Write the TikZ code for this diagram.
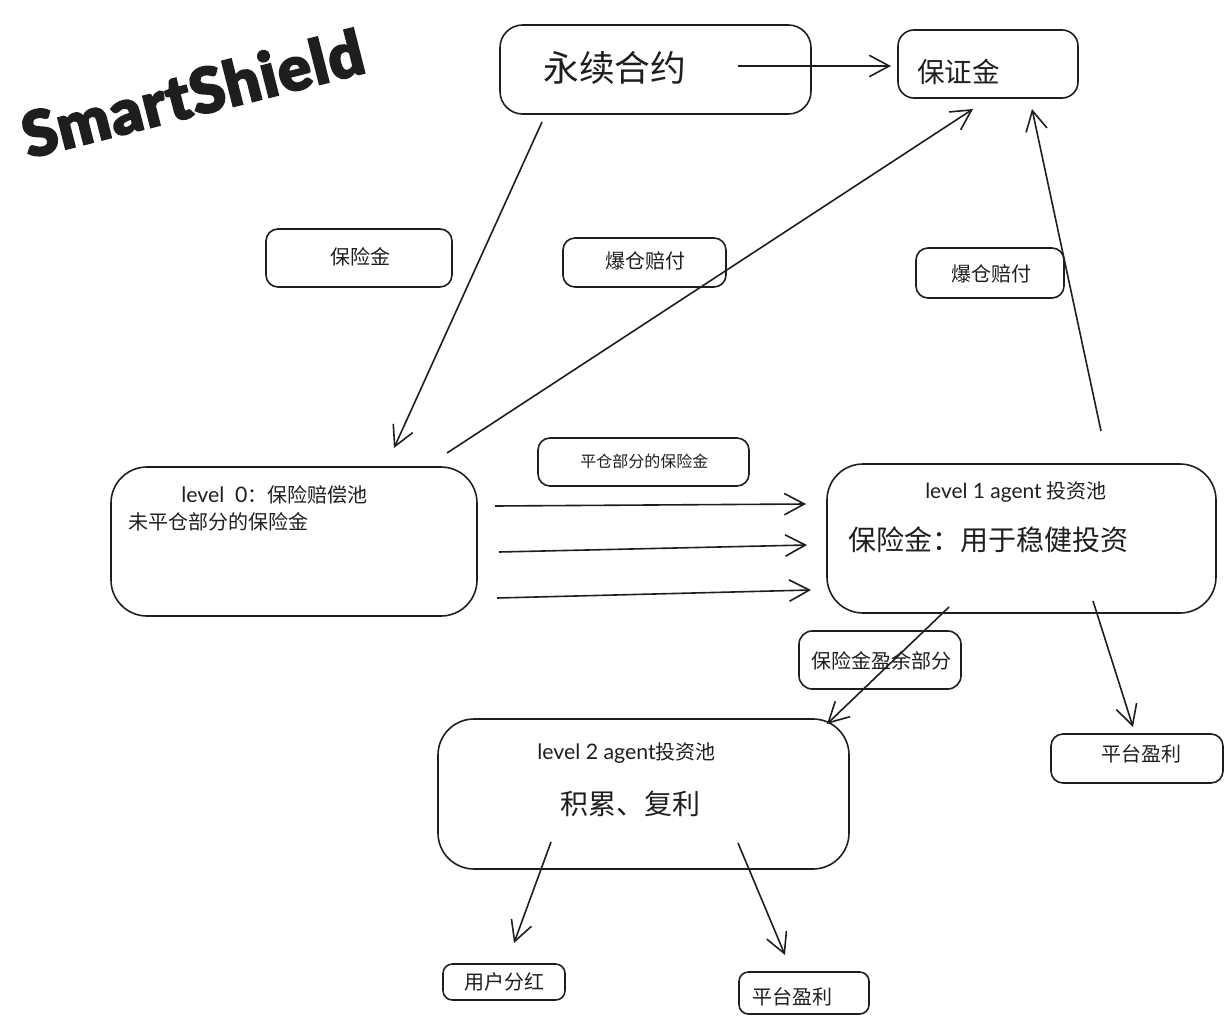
\documentclass[tikz,border=0pt]{standalone}
\usepackage{fontspec}
\setmainfont{Lato}
\newfontfamily\cjk{Noto Sans CJK SC}
\newfontfamily\latn{Lato}
\newfontfamily\titlefont{Lato}[UprightFont=* Black, FakeBold=2.2, LetterSpace=1.5]
\usepackage{tikz}
\usetikzlibrary{arrows.meta}
\definecolor{inkcol}{HTML}{1E1E1E}
\tikzset{
    flowbox/.style 2 args={draw=inkcol, line width=1.2pt, minimum width=#1*0.75pt, minimum height=#2*0.75pt, inner sep=0pt},
    flowarrow/.style={draw=inkcol, line width=1.2pt, -{Straight Barb[length=15pt, width=16pt, line width=1.2pt]}},
    lbl/.style={text=inkcol, inner sep=0pt, anchor=west},
    lblsmall/.style={lbl, font=\cjk\fontsize{12}{14}\selectfont},
    lblmid/.style={lbl, font=\cjk\fontsize{15}{18}\selectfont},
    lblbig/.style={lbl, font=\cjk\fontsize{21}{25}\selectfont},
}

\begin{document}
\begin{tikzpicture}[x=0.75pt, y=-0.75pt]
    \useasboundingbox (0, 0) rectangle (1232, 1024);
    % title
    \node[text=inkcol, inner sep=0pt, rotate=14.3, font=\titlefont\fontsize{47}{54}\selectfont] (title) at (192.5, 93) {SmartShield};
    % boxes
    \node[flowbox={311}{89}, rounded corners=17pt] (contract) at (655.5, 69.5) {};
    \node[flowbox={180}{68}, rounded corners=12pt] (margin) at (988, 64) {};
    \node[flowbox={186}{58}, rounded corners=9pt] (premium) at (359, 258) {};
    \node[flowbox={163}{49}, rounded corners=9pt] (payA) at (644.5, 262.5) {};
    \node[flowbox={148}{50}, rounded corners=9pt] (payB) at (990, 273) {};
    \node[flowbox={211}{48}, rounded corners=9pt] (closed) at (643.5, 462) {};
    \node[flowbox={366}{149}, rounded corners=27pt] (levelzero) at (294, 541.5) {};
    \node[flowbox={389}{149}, rounded corners=27pt] (levelone) at (1021.5, 538.5) {};
    \node[flowbox={162}{58}, rounded corners=10pt] (surplus) at (880, 660) {};
    \node[flowbox={411}{150}, rounded corners=27pt] (leveltwo) at (643.5, 794) {};
    \node[flowbox={172}{49}, rounded corners=9pt] (profitA) at (1137, 758.5) {};
    \node[flowbox={122}{36}, rounded corners=7pt] (dividend) at (504, 982) {};
    \node[flowbox={130}{42}, rounded corners=7pt] (profitB) at (804, 993) {};
    % labels
    \node[lblbig, font=\cjk\fontsize{26.8}{30}\selectfont] (contracttxt) at (543, 68) {永续合约};
    \node[lblbig, font=\cjk\fontsize{20.7}{24}\selectfont] (margintxt) at (917, 72) {保证金};
    \node[lblmid] (premiumtxt) at (330, 257) {保险金};
    \node[lblmid] (payAtxt) at (605, 261) {爆仓赔付};
    \node[lblmid] (payBtxt) at (951, 274) {爆仓赔付};
    \node[lblsmall] (closedtxt) at (580, 461) {平仓部分的保险金};
    \node[lblmid] (zerotxt) at (181, 495) {{\latn\fontsize{16}{18}\selectfont level\hspace{0.5em}0}：保险赔偿池};
    \node[lblmid] (zeronote) at (128, 522) {未平仓部分的保险金};
    \node[lblmid] (onetxt) at (925, 492) {{\latn\fontsize{15.7}{18}\selectfont level 1 agent }投资池};
    \node[lblbig] (onenote) at (848, 540) {保险金：用于稳健投资};
    \node[lblmid] (surplustxt) at (811, 661) {保险金盈余部分};
    \node[lblmid] (twotxt) at (537, 753) {{\latn\fontsize{16}{18}\selectfont level 2 agent}投资池};
    \node[lblbig] (twonote) at (560, 804) {积累、复利};
    \node[lblmid] (profitAtxt) at (1101, 754) {平台盈利};
    \node[lblmid] (dividendtxt) at (464, 982) {用户分红};
    \node[lblmid] (profitBtxt) at (752, 997) {平台盈利};
    % arrow ends
    \coordinate (a1) at (738, 66);   \coordinate (b1) at (891, 66);
    \coordinate (a2) at (542, 122);  \coordinate (b2) at (394, 448);
    \coordinate (a3) at (447, 453);  \coordinate (b3) at (973, 109);
    \coordinate (a4) at (1101, 431); \coordinate (b4) at (1032, 109);
    \coordinate (a5) at (495, 506);  \coordinate (b5) at (806, 504);
    \coordinate (a6) at (499, 552);  \coordinate (b6) at (807, 545);
    \coordinate (a7) at (497, 598);  \coordinate (b7) at (811, 590);
    \coordinate (a8) at (949, 607);  \coordinate (b8) at (827, 724);
    \coordinate (a9) at (1093, 601); \coordinate (b9) at (1133, 727);
    \coordinate (a10) at (551, 842); \coordinate (b10) at (514, 943);
    \coordinate (a11) at (738, 843); \coordinate (b11) at (785, 955);
    \foreach \i in {1,...,11} {
        \draw[flowarrow] (a\i) -- (b\i);
    }
\end{tikzpicture}
\end{document}
